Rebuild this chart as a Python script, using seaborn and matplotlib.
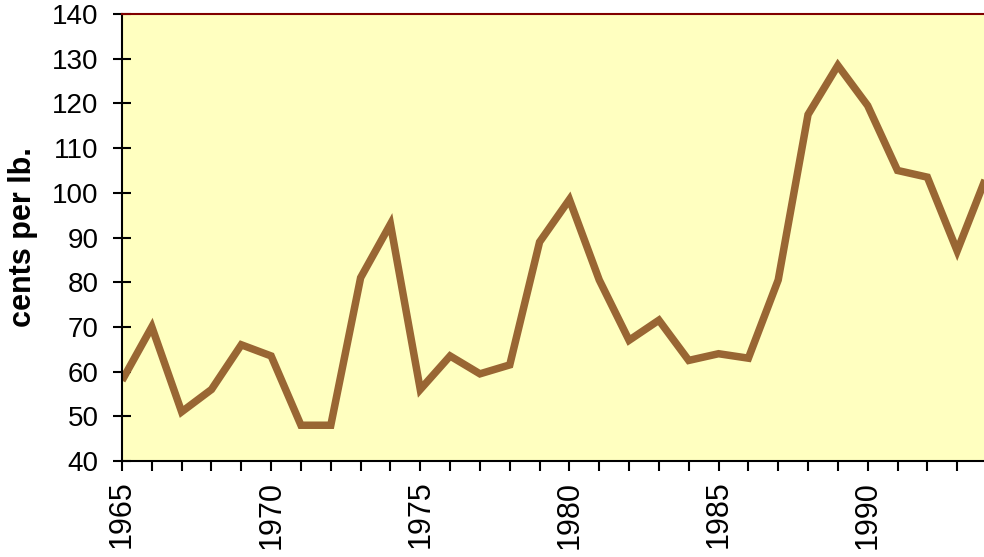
import matplotlib
matplotlib.use("Agg")
import matplotlib.pyplot as plt
import seaborn as sns
import pandas as pd
from matplotlib.ticker import MultipleLocator

years = list(range(1965, 1995))
cents_per_lb = [58, 70, 51, 56, 66, 63.5, 48, 48, 81, 93,
                56, 63.5, 59.5, 61.5, 89, 98.5, 80.5, 67, 71.5, 62.5,
                64, 63, 80.5, 117.5, 128.5, 119.5, 105, 103.5, 87, 104]
y_ticks = list(range(40, 141, 10))
x_major = [1965, 1970, 1975, 1980, 1985, 1990]

df = pd.DataFrame({"year": years, "cents": cents_per_lb})

sns.set_style("white")
plt.rcParams["font.family"] = ["Liberation Sans", "DejaVu Sans"]

fig = plt.figure(figsize=(9.84, 5.57), dpi=100)
ax = fig.add_axes([122/984, 96/557, (987-122)/984, (461-14)/557])
ax.set_facecolor("#FFFFC0")

sns.lineplot(data=df, x="year", y="cents", ax=ax, color="#996633",
             linewidth=5.4, solid_joinstyle="miter", solid_capstyle="butt")

ax.set_xlim(1965, 1994)
ax.set_ylim(40, 140)
ax.set_yticks(y_ticks)
ax.set_xticks(x_major)
ax.xaxis.set_minor_locator(MultipleLocator(1))
ax.set_xticklabels([str(v) for v in x_major], rotation=90, fontsize=22)
ax.set_yticklabels([str(v) for v in y_ticks], fontsize=20)
ax.tick_params(axis="y", which="major", left=True, direction="inout", length=12.5,
               width=1.5, color="black", labelcolor="black", pad=10.5)
ax.tick_params(axis="x", which="both", bottom=True, direction="out", length=7.2,
               width=1.5, color="black", labelcolor="black", pad=7)

ax.set_xlabel("")
ax.set_ylabel("cents per lb.", fontsize=22, fontweight="bold", color="black", labelpad=10)

for s in ["left", "bottom"]:
    ax.spines[s].set_color("black")
    ax.spines[s].set_linewidth(1.5)
ax.spines["top"].set_color("#800000")
ax.spines["top"].set_linewidth(1.5)
ax.spines["right"].set_visible(False)

fig.savefig("out.png", dpi=100, facecolor="white")
